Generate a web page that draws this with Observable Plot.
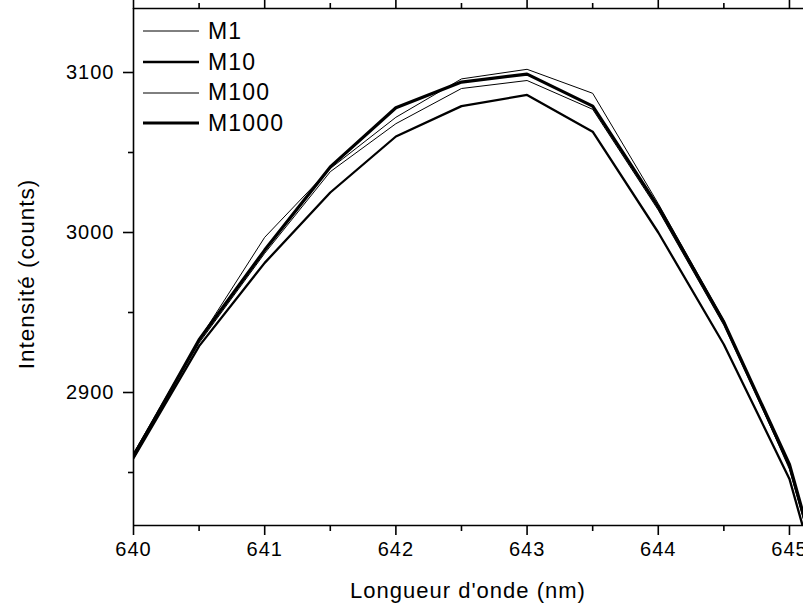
<!DOCTYPE html>
<html>
<head>
<meta charset="utf-8">
<script src="https://cdn.jsdelivr.net/npm/d3@7"></script>
<script src="https://cdn.jsdelivr.net/npm/@observablehq/plot@0.6"></script>
<style>
  html, body { margin: 0; padding: 0; background: #fff; }
  #wrap { position: relative; width: 803px; height: 605px; overflow: hidden; }
  #legend { position: absolute; left: 143px; top: 16px; font-family: "Liberation Sans", Arial, sans-serif; font-size: 23px; letter-spacing: 1.2px; color: #000; }
  .row { height: 30.7px; display: flex; align-items: center; }
  .row svg { width: 56px; height: 10px; margin-right: 9px; }
</style>
</head>
<body>
<div id="wrap"><div id="legend"></div></div>
<script>
const wavelengths = [640, 640.5, 641, 641.5, 642, 642.5, 643, 643.5, 644, 644.5, 645, 645.5];
const M1    = [2862, 2933, 2997, 3040, 3072, 3096, 3102, 3087, 3018, 2945, 2852, 2705];
const M10   = [2859, 2929, 2981, 3025, 3060, 3079, 3086, 3063, 3000, 2930, 2846, 2700];
const M100  = [2862, 2931, 2987, 3038, 3068, 3090, 3095, 3077, 3014, 2942, 2853, 2706];
const M1000 = [2860, 2933, 2989, 3041, 3078, 3094, 3099, 3079, 3016, 2944, 2855, 2708];
const seriesNames = ["M1", "M10", "M100", "M1000"];
const seriesValues = [M1, M10, M100, M1000];
const seriesWidths = [1, 2.3, 1, 3.2];

const xMajor = [640, 641, 642, 643, 644, 645];
const xMinor = [640.5, 641.5, 642.5, 643.5, 644.5];
const yMajor = [2900, 3000, 3100];
const yMinor = [2850, 2950, 3050];
const xDomain = [640, 645.107];
const yDomain = [2816.875, 3140];

const data = [];
seriesNames.forEach((name, i) => {
  wavelengths.forEach((w, j) => data.push({series: name, x: w, y: seriesValues[i][j]}));
});

const font = "Liberation Sans, Arial, sans-serif";
const lineMarks = seriesNames.map((name, i) =>
  Plot.line(data.filter(d => d.series === name), {
    x: "x", y: "y", stroke: "#000", strokeWidth: seriesWidths[i], clip: true, strokeLinejoin: "miter"
  })
);

const chart = Plot.plot({
  width: 803,
  height: 605,
  marginLeft: 133,
  marginRight: 0,
  marginTop: 8,
  marginBottom: 80,
  style: {fontFamily: font, background: "#fff", color: "#000", overflow: "visible"},
  x: {domain: xDomain},
  y: {domain: yDomain},
  marks: [
    ...lineMarks,
    Plot.ruleX([xDomain[0]], {stroke: "#000", strokeWidth: 1.6}),
    Plot.ruleY([yDomain[0], yDomain[1]], {stroke: "#000", strokeWidth: 1.6}),
    Plot.axisX({ticks: xMajor, tickSize: 10, tickPadding: 6, tickFormat: d => String(d), fontSize: 20, strokeWidth: 1.6, label: null}),
    Plot.axisX({ticks: xMinor, tickSize: 6, tickFormat: null, text: null, strokeWidth: 1.6, label: null}),
    Plot.axisX({anchor: "top", ticks: xMajor, tickSize: 10, text: null, strokeWidth: 1.6, label: null}),
    Plot.axisX({anchor: "top", ticks: xMinor, tickSize: 6, text: null, strokeWidth: 1.6, label: null}),
    Plot.axisY({ticks: yMajor, tickSize: 10, tickPadding: 9, tickFormat: d => String(d), fontSize: 20, strokeWidth: 1.6, label: null}),
    Plot.axisY({ticks: yMinor, tickSize: 5, text: null, strokeWidth: 1.6, label: null})
  ]
});

const svg = d3.select(chart);
svg.selectAll("text").style("letter-spacing", "1px");
svg.append("text")
  .attr("x", 133 + (803 - 133) / 2).attr("y", 598)
  .attr("text-anchor", "middle")
  .style("font-family", font).style("font-size", "22px").style("letter-spacing", "1px")
  .text("Longueur d'onde (nm)");
svg.append("text")
  .attr("transform", "translate(34,274) rotate(-90)")
  .attr("text-anchor", "middle")
  .style("font-family", font).style("font-size", "22.5px").style("letter-spacing", "1px")
  .text("Intensité (counts)");

document.getElementById("wrap").insertBefore(chart, document.getElementById("legend"));

const legend = d3.select("#legend");
seriesNames.forEach((name, i) => {
  const row = legend.append("div").attr("class", "row");
  const s = row.append("svg").attr("viewBox", "0 0 56 10");
  s.append("line").attr("x1", 0).attr("x2", 56).attr("y1", 5).attr("y2", 5)
    .attr("stroke", "#000").attr("stroke-width", seriesWidths[i]);
  row.append("span").text(name);
});
</script>
</body>
</html>
